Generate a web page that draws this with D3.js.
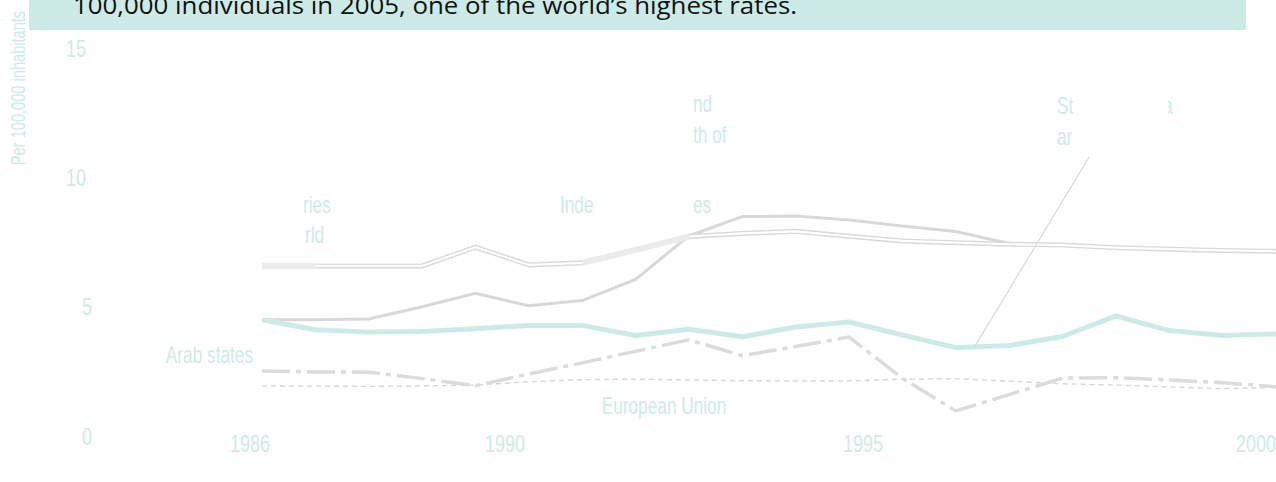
<!DOCTYPE html>
<html>
<head>
<meta charset="utf-8">
<script src="https://cdn.jsdelivr.net/npm/d3@7"></script>
<style>
  body { margin: 0; background: #fff; }
  svg { display: block; }
  .narrow { font-family: "Liberation Sans", Arial, sans-serif; }
</style>
</head>
<body>
<script>
const width = 1276, height = 482;
const teal = '#cdebe6';
const grey = '#dcdcdc';

// data
const years = d3.range(1986, 2006);
const arabStates = [4.50, 4.11, 4.02, 4.04, 4.15, 4.28, 4.28, 3.89, 4.13, 3.84,
                    4.22, 4.41, 3.91, 3.42, 3.50, 3.85, 4.65, 4.08, 3.89, 3.95];
const europeanUnion = [1.94, 1.93, 1.92, 1.94, 1.97, 2.10, 2.18, 2.20, 2.17, 2.14,
                       2.13, 2.13, 2.20, 2.22, 2.12, 2.02, 1.97, 1.90, 1.83, 1.88];
const dashDotSeries = [2.52, 2.48, 2.47, 2.22, 1.95, 2.40, 2.83, 3.28, 3.72, 3.11,
                       3.46, 3.83, 2.23, 0.97, 1.60, 2.24, 2.26, 2.17, 2.06, 1.91];
const greySeries = [4.50, 4.50, 4.53, 5.00, 5.52, 5.04, 5.24, 6.06, 7.75, 8.49,
                    8.51, 8.36, 8.13, 7.91, 7.45, 7.39, 7.29, 7.23, 7.18, 7.15];
const doubleSeries = [6.58, 6.58, 6.58, 6.58, 7.31, 6.62, 6.70, 7.20, 7.72, 7.84,
                      7.92, 7.73, 7.55, 7.48, 7.42, 7.39, 7.29, 7.23, 7.18, 7.15];
const highlightRanges = [[1986, 1987], [1992, 1994]];
const yTicks = [0, 5, 10, 15];
const xTicks = [1986, 1990, 1995, 2000];
const xTickPos = [250, 505, 863, 1256];
const leader = [[1999.35, 3.45], [2001.5, 10.8]];

// label fragments left visible in the picture
const fragments = [
  { text: 'ries', x: 303, y: 213 },
  { text: 'rld', x: 305, y: 243 },
  { text: 'Inde', x: 560, y: 213 },
  { text: 'es', x: 693, y: 213 },
  { text: 'nd', x: 693, y: 112 },
  { text: 'th of', x: 693, y: 143 },
  { text: 'St', x: 1057, y: 114, clip: [1050, 1073] },
  { text: 'ar', x: 1057, y: 145, clip: [1050, 1074] },
  { text: 'a', x: 1163, y: 114, clip: [1168, 1180] }
];

const x = d3.scaleLinear().domain([1986, 2005]).range([262, 1276]);
const y = d3.scaleLinear().domain([0, 15]).range([436, 48.4]);
const xLabel = d3.scaleLinear().domain(xTicks).range(xTickPos);

const svg = d3.select('body').append('svg')
  .attr('width', width)
  .attr('height', height);

const defs = svg.append('defs');

// condensed text: regular face squeezed horizontally
function narrowText(parent, tx, ty, str, size, anchor, rotate) {
  const g = parent.append('g')
    .attr('transform', `translate(${tx},${ty})${rotate ? ' rotate(-90)' : ''} scale(0.75,1)`);
  return g.append('text')
    .attr('class', 'narrow')
    .attr('text-anchor', anchor || 'start')
    .attr('font-size', size)
    .attr('fill', teal)
    .text(str);
}

// header box
svg.append('rect')
  .attr('x', 29).attr('y', 0)
  .attr('width', 1217).attr('height', 30)
  .attr('fill', teal);
svg.append('text')
  .attr('x', 73).attr('y', 14)
  .attr('font-family', '"Open Sans", "Noto Sans", sans-serif')
  .attr('font-size', 24)
  .attr('textLength', 724)
  .attr('lengthAdjust', 'spacingAndGlyphs')
  .attr('fill', '#111')
  .text('100,000 individuals in 2005, one of the world\u2019s highest rates.');

// y axis title
narrowText(svg, 25, 88, 'Per 100,000 inhabitants', 19.5, 'middle', true);

// y tick labels
yTicks.forEach(d => {
  narrowText(svg, d >= 10 ? 86 : 92, y(d), d, 24, 'end').attr('dy', '0.36em');
});

// x tick labels
xTicks.forEach(d => {
  narrowText(svg, xLabel(d), 443, d, 24, 'middle').attr('dy', '0.36em');
});

const line = d3.line()
  .x((d, i) => x(years[i]))
  .y(d => y(d));

const lineYV = d3.line()
  .x(d => x(d[0]))
  .y(d => y(d[1]));

const pairs = vals => years.map((yr, i) => [yr, vals[i]]);

// European Union
svg.append('path')
  .attr('d', line(europeanUnion))
  .attr('fill', 'none')
  .attr('stroke', '#d6d6d6')
  .attr('stroke-width', 1.4)
  .attr('stroke-dasharray', '5,4');

// dash-dot series
svg.append('path')
  .attr('d', line(dashDotSeries))
  .attr('fill', 'none')
  .attr('stroke', grey)
  .attr('stroke-width', 3.5)
  .attr('stroke-dasharray', '28,6,5,6');

// grey solid series
svg.append('path')
  .attr('d', line(greySeries))
  .attr('fill', 'none')
  .attr('stroke', '#d8d8d8')
  .attr('stroke-width', 3);

// cased series
svg.append('path')
  .attr('d', line(doubleSeries))
  .attr('fill', 'none')
  .attr('stroke', '#d9d9d9')
  .attr('stroke-width', 5);
svg.append('path')
  .attr('d', line(doubleSeries))
  .attr('fill', 'none')
  .attr('stroke', '#fff')
  .attr('stroke-width', 2.2);

highlightRanges.forEach(r => {
  const seg = pairs(doubleSeries).filter(d => d[0] >= r[0] && d[0] <= r[1]);
  svg.append('path')
    .attr('d', lineYV(seg))
    .attr('fill', 'none')
    .attr('stroke', '#ebebeb')
    .attr('stroke-width', 6);
});

// Arab states
svg.append('path')
  .attr('d', line(arabStates))
  .attr('fill', 'none')
  .attr('stroke', teal)
  .attr('stroke-width', 5)
  .attr('stroke-linejoin', 'round');

// leader line
svg.append('path')
  .attr('d', lineYV(leader))
  .attr('fill', 'none')
  .attr('stroke', '#d9d9d9')
  .attr('stroke-width', 1.2);

// labels
narrowText(svg, 253, 363, 'Arab states', 23, 'end');
narrowText(svg, 664, 414, 'European Union', 23, 'middle');

fragments.forEach((f, i) => {
  const t = narrowText(svg, f.x, f.y, f.text, 23);
  if (f.clip) {
    defs.append('clipPath').attr('id', 'clip' + i)
      .attr('clipPathUnits', 'userSpaceOnUse')
      .append('rect')
      .attr('x', (f.clip[0] - f.x) / 0.75).attr('y', -25)
      .attr('width', (f.clip[1] - f.clip[0]) / 0.75).attr('height', 35);
    t.attr('clip-path', `url(#clip${i})`);
  }
});
</script>
</body>
</html>
